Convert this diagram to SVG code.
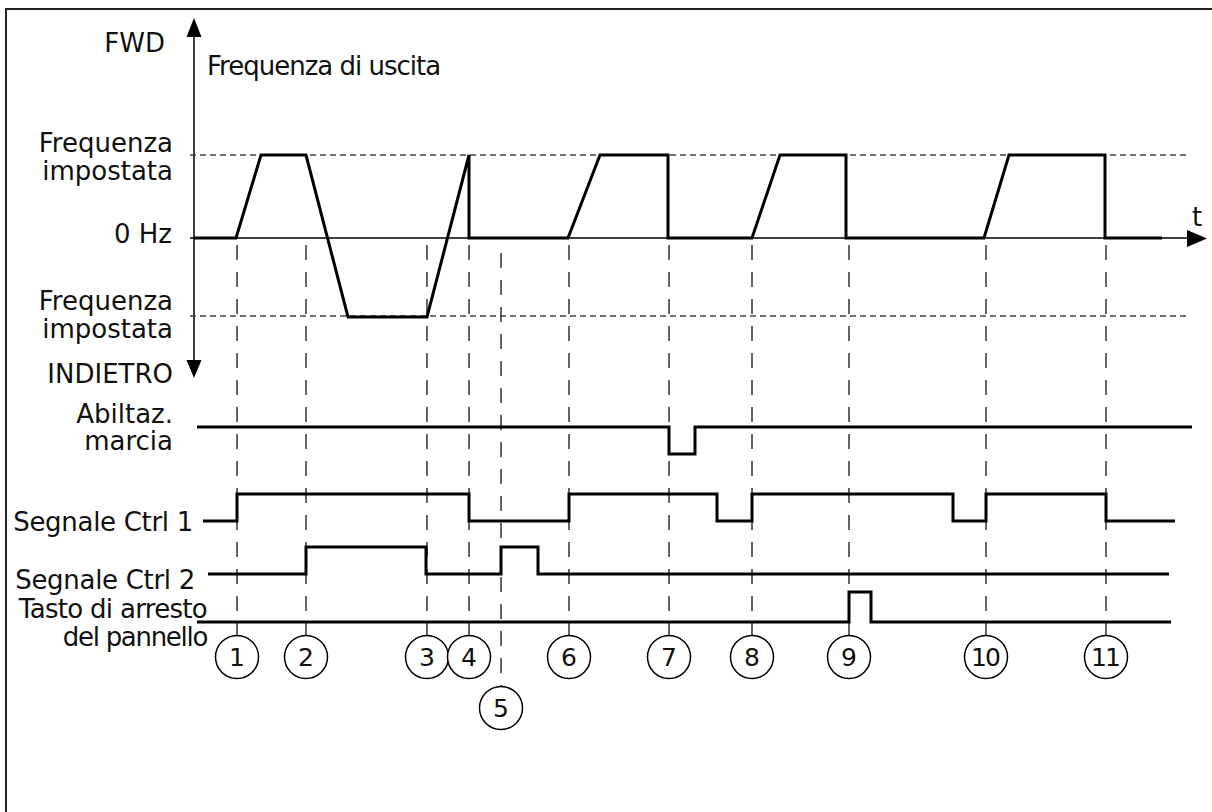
<svg xmlns="http://www.w3.org/2000/svg" width="1212" height="812" viewBox="0 0 1212 812">
<style>
text{font-family:"DejaVu Sans","Liberation Sans",sans-serif;font-size:26px;fill:#111}
.r{text-anchor:end}
.c{text-anchor:middle}
.n{font-size:25px}
.grid{stroke:#333;stroke-width:1.5;stroke-dasharray:15 12;fill:none}
.set{stroke:#444;stroke-width:1.3;stroke-dasharray:6 4;fill:none}
.sig{stroke:#000;stroke-width:3;fill:none;stroke-linejoin:miter}
.axis{stroke:#000;stroke-width:1.5;fill:none}
.mk circle{fill:#fff;stroke:#000;stroke-width:1.5}
</style>
<rect width="1212" height="812" fill="#fff"/>
<path d="M6,812 V9 H1212" stroke="#222" stroke-width="2" fill="none"/>

<g id="axes">
<line class="axis" x1="194" y1="36" x2="194" y2="362"/>
<polygon points="194,18 186.5,37 201.5,37" fill="#000"/>
<polygon points="194,378 186.5,360 201.5,360" fill="#000"/>
<line class="axis" x1="190" y1="238" x2="1188" y2="238"/>
<polygon points="1207,238.5 1187,230 1187,247" fill="#000"/>
<line class="set" x1="190" y1="155" x2="1188" y2="155"/>
<line class="set" x1="190" y1="316" x2="1188" y2="316"/>
</g>

<g id="labels">
<text class="r" x="165" y="52">FWD</text>
<text x="207" y="75" letter-spacing="-1">Frequenza di uscita</text>
<text class="r" x="173" y="152">Frequenza</text>
<text class="r" x="173" y="180">impostata</text>
<text class="r" x="172" y="243">0 Hz</text>
<text class="r" x="173" y="310">Frequenza</text>
<text class="r" x="173" y="338">impostata</text>
<text class="r" x="173" y="383">INDIETRO</text>
<text class="r" x="173" y="423">Abiltaz.</text>
<text class="r" x="173" y="450">marcia</text>
<text class="r" x="193" y="531" letter-spacing="-0.3">Segnale Ctrl 1</text>
<text class="r" x="195" y="589" letter-spacing="-0.3">Segnale Ctrl 2</text>
<text class="r" x="207" y="618" letter-spacing="-0.7">Tasto di arresto</text>
<text class="r" x="207" y="646" letter-spacing="-1.3">del pannello</text>
<text class="c" x="1197" y="226">t</text>
</g>

<g id="connectors">
<line class="grid" x1="237" y1="245" x2="237" y2="635"/>
<line class="grid" x1="306" y1="245" x2="306" y2="635"/>
<line class="grid" x1="427" y1="245" x2="427" y2="635"/>
<line class="grid" x1="469" y1="245" x2="469" y2="635"/>
<line class="grid" x1="501" y1="253" x2="501" y2="687"/>
<line class="grid" x1="569" y1="245" x2="569" y2="635"/>
<line class="grid" x1="669" y1="245" x2="669" y2="635"/>
<line class="grid" x1="752" y1="245" x2="752" y2="635"/>
<line class="grid" x1="849" y1="245" x2="849" y2="635"/>
<line class="grid" x1="986" y1="245" x2="986" y2="635"/>
<line class="grid" x1="1106" y1="245" x2="1106" y2="635"/>
</g>

<g id="signals">
<polyline id="freq" class="sig" points="194,238 236,238 261,155 306,155 348,317 427,317 469,155 469,238 568,238 600,155 668,155 668,238 752,238 780,155 846,155 846,238 984,238 1009,155 1105,155 1105,238 1162,238"/>
<polyline id="run" class="sig" points="197,427 669,427 669,454 695,454 695,427 1192,427"/>
<polyline id="ctrl1" class="sig" points="203,521 237,521 237,494 469,494 469,521 569,521 569,494 717,494 717,521 752,521 752,494 953,494 953,521 986,521 986,494 1106,494 1106,521 1175,521"/>
<polyline id="ctrl2" class="sig" points="208,574 306,574 306,547 426,547 426,574 501,574 501,547 538,547 538,574 1169,574"/>
<polyline id="stop" class="sig" points="197,622 849,622 849,592 871,592 871,622 1171,622"/>
</g>

<g class="mk">
<g id="m1"><circle cx="237" cy="657" r="21.5"/><text class="c n" x="237" y="666">1</text></g>
<g id="m2"><circle cx="306" cy="657" r="21.5"/><text class="c n" x="306" y="666">2</text></g>
<g id="m3"><circle cx="427" cy="657" r="21.5"/><text class="c n" x="427" y="666">3</text></g>
<g id="m4"><circle cx="469" cy="657" r="21.5"/><text class="c n" x="469" y="666">4</text></g>
<g id="m5"><circle cx="501" cy="708" r="21.5"/><text class="c n" x="501" y="717">5</text></g>
<g id="m6"><circle cx="569" cy="657" r="21.5"/><text class="c n" x="569" y="666">6</text></g>
<g id="m7"><circle cx="669" cy="657" r="21.5"/><text class="c n" x="669" y="666">7</text></g>
<g id="m8"><circle cx="752" cy="657" r="21.5"/><text class="c n" x="752" y="666">8</text></g>
<g id="m9"><circle cx="849" cy="657" r="21.5"/><text class="c n" x="849" y="666">9</text></g>
<g id="m10"><circle cx="986" cy="657" r="21.5"/><text class="c n" x="985" y="666" letter-spacing="-2">10</text></g>
<g id="m11"><circle cx="1106" cy="657" r="21.5"/><text class="c n" x="1105" y="666" letter-spacing="-2">11</text></g>
</g>
</svg>
